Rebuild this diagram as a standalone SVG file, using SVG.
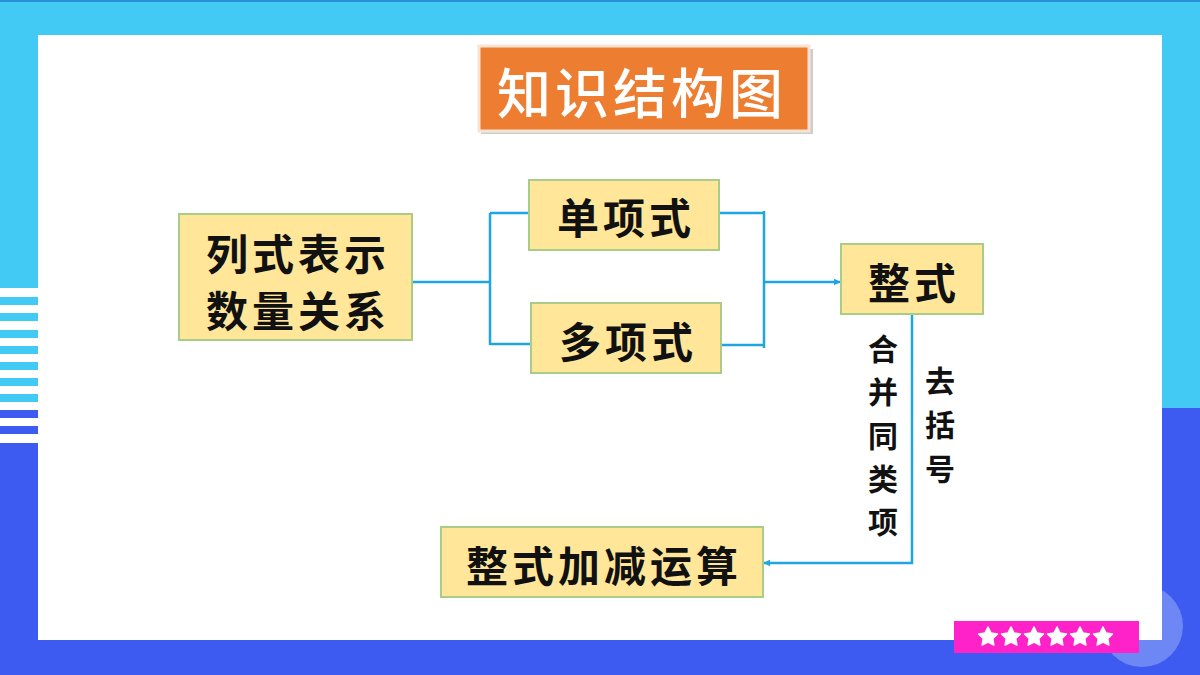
<svg xmlns="http://www.w3.org/2000/svg" width="1200" height="675" viewBox="0 0 1200 675">
<style>
.node rect{fill:#FFE699;stroke:#A9CD86;stroke-width:2}
.node text{font-family:"Noto Sans CJK SC","Noto Sans",sans-serif;font-weight:bold;font-size:42px;letter-spacing:4px;fill:#111;text-anchor:middle;dominant-baseline:central}
.lbl{font-family:"Noto Sans CJK SC","Noto Sans",sans-serif;font-weight:bold;font-size:30px;fill:#111;text-anchor:middle;dominant-baseline:central}
#connectors path{fill:none;stroke:#1FA6E0;stroke-width:2.5}
</style>
<defs>
<marker id="arr" viewBox="0 0 10 10" refX="9" refY="5" markerWidth="7" markerHeight="7" markerUnits="userSpaceOnUse" orient="auto">
<path d="M0,0 L10,5 L0,10 z" fill="#1FA6E0"/>
</marker>
<polygon id="star" points="0,-10 2.94,-4.05 9.51,-3.09 4.75,1.55 5.88,8.09 0,5 -5.88,8.09 -4.75,1.55 -9.51,-3.09 -2.94,-4.05" fill="#fff" stroke="#fff" stroke-width="1.5" stroke-linejoin="round"/>
</defs>
<g id="background">
<rect x="0" y="0" width="1200" height="675" fill="#fff"/>
<rect x="0" y="0" width="1200" height="288" fill="#42C9F4"/>
<rect x="1162" y="0" width="38" height="408" fill="#42C9F4"/>
<rect x="1162" y="408" width="38" height="267" fill="#3D5AF1"/>
<rect x="0" y="640" width="1200" height="35" fill="#3D5AF1"/>
<rect x="0" y="443" width="38" height="232" fill="#3D5AF1"/>
<rect x="0" y="0" width="1200" height="2" fill="#2B8FD6"/>
<g fill="#42C9F4">
<rect x="0" y="297" width="38" height="8"/>
<rect x="0" y="313" width="38" height="8"/>
<rect x="0" y="330" width="38" height="8"/>
<rect x="0" y="346" width="38" height="8"/>
<rect x="0" y="362" width="38" height="8"/>
<rect x="0" y="378" width="38" height="8"/>
<rect x="0" y="394" width="38" height="8"/>
</g>
<g fill="#3D5AF1">
<rect x="0" y="410" width="38" height="8"/>
<rect x="0" y="426" width="38" height="8"/>
</g>
<circle cx="1142" cy="626" r="41" fill="#6D87F4"/>
<rect x="38" y="35" width="1124" height="605" fill="#fff"/>
</g>
<g id="title">
<rect x="481" y="49" width="332" height="85" fill="#B8B8B8" opacity="0.7"/>
<rect x="479" y="46" width="330" height="85" fill="#ED7D31" stroke="#FBE3D3" stroke-width="3"/>
<text x="642" y="90" font-family="'Noto Sans CJK SC','Noto Sans',sans-serif" font-size="54" font-weight="500" letter-spacing="4" fill="#fff" text-anchor="middle" dominant-baseline="central">知识结构图</text>
</g>
<g id="connectors">
<path d="M412,282 H490 M490,213 V345 M490,213 H529 M490,344 H531"/>
<path d="M719,213 H764 M721,345 H764 M764,211 V348"/>
<path d="M764,282 H840" marker-end="url(#arr)"/>
<path d="M912,314 V563 H764" marker-end="url(#arr)"/>
</g>
<g id="node-lieshi" class="node">
<rect x="179" y="214" width="233" height="126"/>
<text x="298" y="251">列式表示</text>
<text x="298" y="308">数量关系</text>
</g>
<g id="node-danxiang" class="node">
<rect x="529" y="180" width="190" height="70"/>
<text x="626" y="215">单项式</text>
</g>
<g id="node-duoxiang" class="node">
<rect x="531" y="303" width="190" height="70"/>
<text x="628" y="339">多项式</text>
</g>
<g id="node-zhengshi" class="node">
<rect x="841" y="244" width="142" height="70"/>
<text x="914" y="280">整式</text>
</g>
<g id="node-jiajian" class="node">
<rect x="441" y="527" width="322" height="70"/>
<text x="604" y="563">整式加减运算</text>
</g>
<g id="edge-labels">
<text class="lbl" x="883" y="347">合</text>
<text class="lbl" x="883" y="390">并</text>
<text class="lbl" x="883" y="434">同</text>
<text class="lbl" x="883" y="477">类</text>
<text class="lbl" x="883" y="520">项</text>
<text class="lbl" x="940" y="379">去</text>
<text class="lbl" x="940" y="423">括</text>
<text class="lbl" x="940" y="467">号</text>
</g>
<g id="badge">
<rect x="954" y="621" width="185" height="32" fill="#FF22C8"/>
<use href="#star" x="988" y="637"/>
<use href="#star" x="1011" y="637"/>
<use href="#star" x="1034" y="637"/>
<use href="#star" x="1057" y="637"/>
<use href="#star" x="1080" y="637"/>
<use href="#star" x="1103" y="637"/>
</g>
</svg>
